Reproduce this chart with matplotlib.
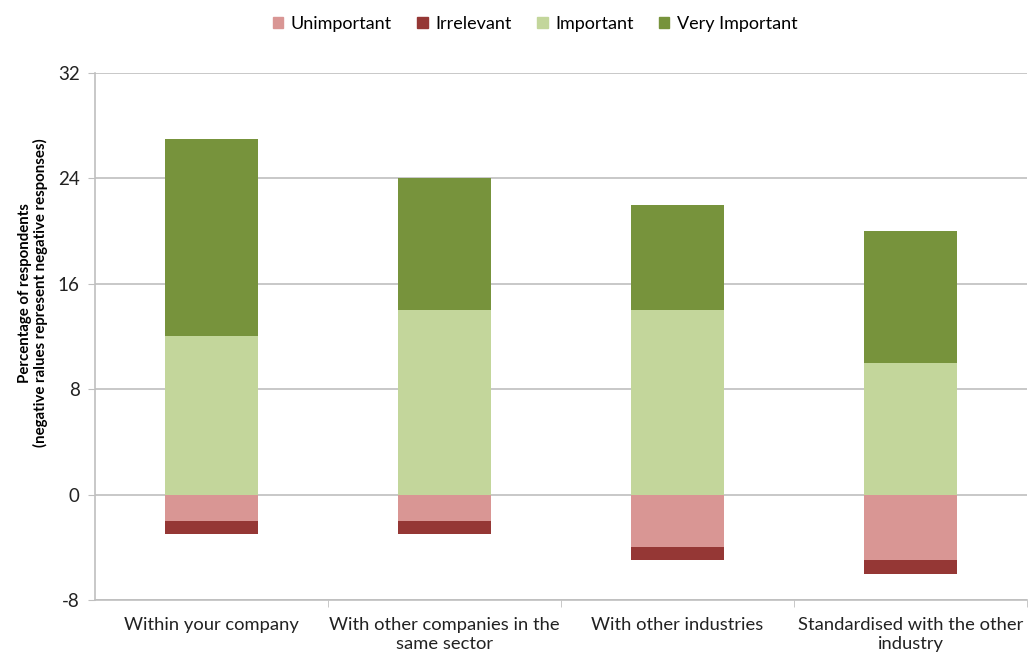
import numpy as np
import matplotlib
matplotlib.use("Agg")
import matplotlib.pyplot as plt
from matplotlib.patches import Patch

plt.rcParams["font.family"] = ["Lato", "DejaVu Sans"]
plt.rcParams["axes.unicode_minus"] = False

categories = ["Within your company",
              "With other companies in the\nsame sector",
              "With other industries",
              "Standardised with the other\nindustry"]
unimportant = [-2, -2, -4, -5]
irrelevant = [-1, -1, -1, -1]
important = [12, 14, 14, 10]
very_important = [15, 10, 8, 10]

C_UNIMP = "#D99694"
C_IRREL = "#953735"
C_IMP = "#C3D69B"
C_VIMP = "#77933C"
GRID = "#BFBFBF"

fig = plt.figure(figsize=(10.36, 6.57), dpi=100)
ax = fig.add_axes([95 / 1036, 1 - 600 / 657, 932 / 1036, 527 / 657])

x = np.arange(len(categories))
w = 0.40
unimp = np.array(unimportant)
irrel = np.array(irrelevant)
imp = np.array(important)
vimp = np.array(very_important)

ax.bar(x, unimp, w, color=C_UNIMP, zorder=3)
ax.bar(x, irrel, w, bottom=unimp, color=C_IRREL, zorder=3)
ax.bar(x, imp, w, color=C_IMP, zorder=3)
ax.bar(x, vimp, w, bottom=imp, color=C_VIMP, zorder=3)

ax.set_xlim(-0.5, len(categories) - 0.5)
ax.set_ylim(-8, 32)
ax.set_yticks(np.arange(-8, 33, 8))
ax.yaxis.grid(True, color=GRID, lw=1.2, zorder=0)
ax.tick_params(axis="y", length=5, color=GRID, labelsize=13.5, labelcolor="#222222", pad=6)

ax.set_xticks(x)
ax.set_xticklabels(categories, fontsize=13.2, color="#222222", linespacing=1.25)
ax.tick_params(axis="x", length=0, pad=12)
ax.set_xticks(np.arange(0.5, len(categories), 1), minor=True)
ax.tick_params(axis="x", which="minor", length=5, color=GRID)

for s in ["top", "right"]:
    ax.spines[s].set_visible(False)
ax.spines["left"].set_color(GRID)
ax.spines["left"].set_linewidth(1.2)
ax.spines["bottom"].set_color(GRID)
ax.spines["bottom"].set_linewidth(1.2)

ax.set_ylabel("Percentage of respondents\n(negative ralues represent negative responses)",
              fontsize=10.8, fontweight="bold", linespacing=1.15)
ax.yaxis.set_label_coords(-0.050, (600 - 293) / 527)

handles = [Patch(color=C_UNIMP, label="Unimportant"),
           Patch(color=C_IRREL, label="Irrelevant"),
           Patch(color=C_IMP, label="Important"),
           Patch(color=C_VIMP, label="Very Important")]
fig.legend(handles=handles, loc="center", bbox_to_anchor=(535 / 1036, 1 - 24 / 657),
           ncol=4, frameon=False, fontsize=13, handlelength=0.6, handleheight=0.6,
           handletextpad=0.4, columnspacing=1.4)

fig.savefig("out.png", dpi=100)
